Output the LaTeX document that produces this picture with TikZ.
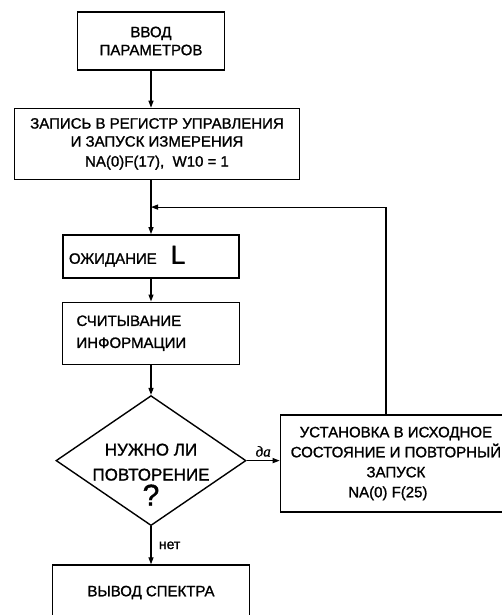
\documentclass[tikz,border=0pt]{standalone}
\usepackage{fontspec}
\setmainfont{Liberation Sans}[FakeBold=1.2]
\newfontfamily\handfont{Liberation Serif}[FakeBold=1.2]
\usetikzlibrary{positioning,arrows.meta,shapes.geometric}

\begin{document}
\begin{tikzpicture}[x=1pt, y=1pt, block/.style={draw, line width=1.4pt, inner sep=3pt, font=\fontsize{15}{18}\selectfont}, decision/.style={draw, diamond, line width=1.4pt, minimum width=190pt, minimum height=130pt, inner sep=0pt}, flow/.style={-{Triangle[length=7pt,width=5pt]}, line width=1.2pt}, lbl/.style={font=\fontsize{14}{16}\selectfont}]
\useasboundingbox (0,0) rectangle (502,-615);
\node[block, align=center, minimum width=147pt, minimum height=58pt] (input) at (151,-41) {ВВОД\\ПАРАМЕТРОВ};
\node[block, align=center, minimum width=285pt, minimum height=71pt, below=37pt of input, xshift=6pt] (control) {ЗАПИСЬ В РЕГИСТР УПРАВЛЕНИЯ\\И ЗАПУСК ИЗМЕРЕНИЯ\\[2pt]NA(0)F(17),\ \ W10 = 1};
\node[block, align=left, text width=164pt, inner xsep=6pt, minimum height=43pt, below=54pt of control, xshift=-6pt] (wait) {ОЖИДАНИЕ\hspace{14pt}{\fontsize{26}{26}\selectfont L}};
\node[block, align=left, text width=149pt, inner xsep=14pt, minimum height=62pt, below=23pt of wait, font=\fontsize{15}{22}\selectfont] (read) {СЧИТЫВАНИЕ\\ИНФОРМАЦИИ};
\node[decision, below=30pt of read] (ask) {};
\node[align=center, font=\fontsize{17}{25}\selectfont] (asktext) at ([yshift=-14pt]ask.center) {НУЖНО ЛИ\\ПОВТОРЕНИЕ\\{\fontsize{30}{30}\selectfont ?}};
\node[block, minimum width=197pt, minimum height=55pt, below=38pt of ask] (output) {ВЫВОД СПЕКТРА};
\node[block, align=center, minimum width=231pt, minimum height=97pt, right=33pt of ask, yshift=-3pt, font=\fontsize{15}{20}\selectfont] (reset) {УСТАНОВКА В ИСХОДНОЕ\\СОСТОЯНИЕ И ПОВТОРНЫЙ\\ЗАПУСК\hspace*{24pt}\\NA(0) F(25)\hspace*{16pt}};
\coordinate[above=27pt of wait.north] (join);
% основной поток
\draw[flow] (input) -- (input |- control.north);
\draw[flow] (control.south -| wait.north) -- (wait.north);
\draw[flow] (wait) -- (read);
\draw[flow] (read) -- (ask);
\draw[flow] (ask.east) -- node[above, font=\handfont\itshape\fontsize{15}{16}\selectfont] {да} (ask.east -| reset.west);
\draw[flow] (ask.south) -- node[right, lbl, xshift=4pt] {нет} (output.north);
% повторный запуск
\draw[flow] ([xshift=-10pt]reset.north) |- (join);
\end{tikzpicture}
\end{document}
